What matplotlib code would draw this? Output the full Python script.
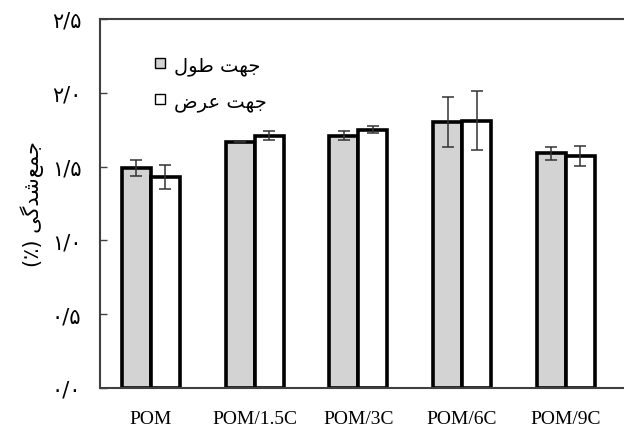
import matplotlib
matplotlib.use("Agg")
import matplotlib.pyplot as plt
from matplotlib.lines import Line2D
import numpy as np

# donnees
categories = ["POM", "POM/1.5C", "POM/3C", "POM/6C", "POM/9C"]
length_vals = [1.49, 1.67, 1.71, 1.80, 1.59]
length_err = [0.055, 0.006, 0.03, 0.17, 0.042]
width_vals = [1.43, 1.71, 1.75, 1.81, 1.57]
width_err = [0.082, 0.028, 0.022, 0.20, 0.068]

# textes persans (formes de presentation, ordre visuel)
len_label = "\ufedd\ufeee\ufec3 \ufe96\ufeec\ufe9f"   # جهت طول
wid_label = "\ufebd\ufeae\ufecb \ufe96\ufeec\ufe9f"   # جهت عرض
y_label = "(\u066a) \ufbfd\ufb94\ufeaa\ufeb7\ufeca\ufee4\ufe9f"  # جمع‌شدگی (٪)
yticks = [0, 0.5, 1.0, 1.5, 2.0, 2.5]
ytick_labels = ["\u06f0/\u06f0", "\u06f0/\u06f5", "\u06f1/\u06f0",
                "\u06f1/\u06f5", "\u06f2/\u06f0", "\u06f2/\u06f5"]

fig = plt.figure(figsize=(6.24, 4.31), dpi=100)
ax = fig.add_axes([100 / 624, 1 - 389 / 431, 524 / 624, 369 / 431])

x = np.arange(len(categories))
w = 0.28
ax.bar(x - w / 2, length_vals, w, color="#d3d3d3", edgecolor="black", linewidth=2.6, zorder=2)
ax.bar(x + w / 2, width_vals, w, color="white", edgecolor="black", linewidth=2.6, zorder=2)
ax.errorbar(x - w / 2, length_vals, yerr=length_err, fmt="none", ecolor="#333333",
            elinewidth=1.1, capsize=4, capthick=1.1, zorder=3)
ax.errorbar(x + w / 2, width_vals, yerr=width_err, fmt="none", ecolor="#333333",
            elinewidth=1.1, capsize=4, capthick=1.1, zorder=3)

ax.set_xlim(-0.49, 4.56)
ax.set_ylim(0, 2.5)
ax.set_xticks(x)
ax.set_xticklabels(categories, fontfamily="Liberation Serif", fontsize=14)
ax.tick_params(axis="x", length=0, pad=16)
ax.set_yticks(yticks)
ax.set_yticklabels(ytick_labels, fontfamily="DejaVu Sans", fontsize=15)
ax.tick_params(axis="y", direction="in", length=5, width=1, color="#404040", pad=24)
for lab in ax.get_yticklabels():
    lab.set_horizontalalignment("center")
ax.set_ylabel(y_label, fontfamily="DejaVu Sans", fontsize=15, labelpad=6)

ax.spines["right"].set_visible(False)
for s in ["left", "top", "bottom"]:
    ax.spines[s].set_color("#404040")
    ax.spines[s].set_linewidth(1.5)

handles = [
    Line2D([], [], ls="none", marker="s", ms=6.5, mfc="#d3d3d3", mec="black", mew=1),
    Line2D([], [], ls="none", marker="s", ms=6.5, mfc="white", mec="black", mew=1),
]
ax.legend(handles, [len_label, wid_label], loc="upper left", bbox_to_anchor=(0.07, 0.95),
          frameon=False, prop={"family": "DejaVu Sans", "size": 14},
          handlelength=0.6, handletextpad=0.4, labelspacing=0.85)

fig.savefig("out.png", dpi=100)
